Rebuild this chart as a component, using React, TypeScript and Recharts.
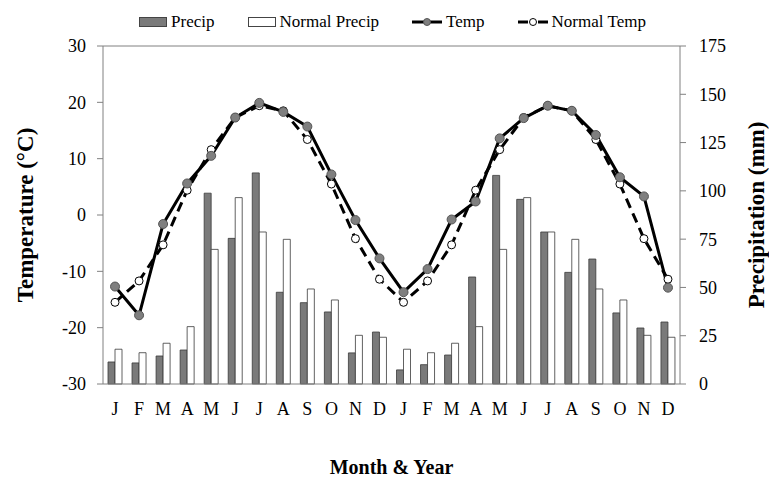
import React from "react";
import {
  Bar,
  ComposedChart,
  Legend,
  Line,
  ReferenceLine,
  XAxis,
  YAxis,
} from "recharts";

const months = ["J", "F", "M", "A", "M", "J", "J", "A", "S", "O", "N", "D",
  "J", "F", "M", "A", "M", "J", "J", "A", "S", "O", "N", "D"];

const precip = [11.4, 10.9, 14.5, 17.6, 98.8, 75.4, 109.3, 47.5, 42.1, 37.3, 16.1, 26.9,
  7.3, 10, 15, 55.4, 108, 95.6, 78.7, 57.8, 64.7, 36.8, 29, 32.1];
const normalPrecipYear = [18, 16.2, 21.1, 29.7, 69.7, 96.5, 78.7, 74.9, 49.2, 43.5, 25.2, 24.2];
const normalPrecip = [...normalPrecipYear, ...normalPrecipYear];

const temp = [-12.7, -17.8, -1.6, 5.6, 10.5, 17.3, 19.9, 18.3, 15.7, 7.2, -0.9, -7.7,
  -13.7, -9.6, -0.8, 2.4, 13.6, 17.2, 19.4, 18.5, 14.2, 6.7, 3.3, -12.9];
const normalTempYear = [-15.5, -11.7, -5.3, 4.4, 11.6, 17.3, 19.4, 18.5, 13.4, 5.5, -4.2, -11.4];
const normalTemp = [...normalTempYear, ...normalTempYear];

const tempTicks = [-30, -20, -10, 0, 10, 20, 30];
const precipTicks = [0, 25, 50, 75, 100, 125, 150, 175];

const data = months.map((m, i) => ({
  month: m,
  precip: precip[i],
  normalPrecip: normalPrecip[i],
  temp: temp[i],
  normalTemp: normalTemp[i],
}));

const FONT = "'Liberation Serif', 'Times New Roman', serif";
const AXIS = "#808080";

function YTitle({ viewBox, value, dx }: any) {
  const x = viewBox.x + dx;
  const y = viewBox.y + viewBox.height / 2;
  return (
    <text
      x={x}
      y={y}
      transform={`rotate(-90, ${x}, ${y})`}
      textAnchor="middle"
      dominantBaseline="central"
      fontFamily={FONT}
      fontWeight="bold"
      fontSize={23}
      fill="#000"
    >
      {value}
    </text>
  );
}

function XTitle({ viewBox, value }: any) {
  return (
    <text
      x={viewBox.x + viewBox.width / 2}
      y={viewBox.y + 83}
      textAnchor="middle"
      dominantBaseline="central"
      fontFamily={FONT}
      fontWeight="bold"
      fontSize={20}
      fill="#000"
    >
      {value}
    </text>
  );
}

function LegendContent() {
  const item = { display: "flex", alignItems: "center", gap: 4 } as const;
  return (
    <div
      style={{
        display: "flex",
        justifyContent: "center",
        gap: 33,
        fontFamily: FONT,
        fontSize: 17,
        color: "#000",
        lineHeight: "20px",
      }}
    >
      <div style={item}>
        <span style={{ width: 26, height: 8, background: "#7a7a7a", border: "1px solid #444" }} />
        Precip
      </div>
      <div style={item}>
        <span style={{ width: 26, height: 8, background: "#fff", border: "1px solid #444" }} />
        Normal Precip
      </div>
      <div style={item}>
        <svg width={30} height={12}>
          <line x1={0} y1={6} x2={30} y2={6} stroke="#000" strokeWidth={3} />
          <circle cx={15} cy={6} r={3.5} fill="#7f7f7f" stroke="#555" />
        </svg>
        Temp
      </div>
      <div style={item}>
        <svg width={30} height={12}>
          <line x1={0} y1={6} x2={10} y2={6} stroke="#000" strokeWidth={3} />
          <line x1={20} y1={6} x2={30} y2={6} stroke="#000" strokeWidth={3} />
          <circle cx={15} cy={6} r={3.5} fill="#fff" stroke="#000" />
        </svg>
        Normal Temp
      </div>
    </div>
  );
}

export default function App() {
  return (
    <div style={{ position: "absolute", left: 0, top: 0, background: "#fff" }}>
      <ComposedChart
        width={769}
        height={477}
        data={data}
        margin={{ top: 46, right: 0, left: 0, bottom: 0 }}
        barGap={0}
        barCategoryGap={0}
      >
        <XAxis
          dataKey="month"
          interval={0}
          height={93}
          stroke={AXIS}
          tickLine={false}
          tickMargin={12}
          tick={{ fill: "#000", fontFamily: FONT, fontSize: 18 }}
          label={<XTitle value="Month & Year" />}
        />
        <YAxis
          yAxisId="temp"
          domain={[-30, 30]}
          ticks={tempTicks}
          width={103}
          stroke={AXIS}
          tickSize={6}
          tickMargin={11}
          tick={{ fill: "#000", fontFamily: FONT, fontSize: 18 }}
          label={<YTitle value="Temperature (°C)" dx={25} />}
        />
        <YAxis
          yAxisId="precip"
          orientation="right"
          domain={[0, 175]}
          ticks={precipTicks}
          width={89}
          stroke={AXIS}
          tickSize={6}
          tickMargin={13}
          tick={{ fill: "#000", fontFamily: FONT, fontSize: 18 }}
          label={<YTitle value="Precipitation (mm)" dx={76} />}
        />
        <ReferenceLine yAxisId="temp" y={30} stroke={AXIS} />
        <Legend
          layout="horizontal"
          verticalAlign="middle"
          align="center"
          content={<LegendContent />}
          wrapperStyle={{ position: "absolute", top: 12, left: 8, width: 769, height: 20 }}
        />
        <Bar
          yAxisId="precip"
          dataKey="precip"
          barSize={7}
          fill="#7a7a7a"
          stroke="#3a3a3a"
          strokeWidth={0.8}
          isAnimationActive={false}
        />
        <Bar
          yAxisId="precip"
          dataKey="normalPrecip"
          barSize={7}
          fill="#fff"
          stroke="#3a3a3a"
          strokeWidth={0.8}
          isAnimationActive={false}
        />
        <Line
          yAxisId="temp"
          dataKey="normalTemp"
          stroke="#000"
          strokeWidth={3}
          strokeDasharray="10 6"
          dot={{ r: 4, fill: "#fff", stroke: "#000", strokeWidth: 1, strokeDasharray: "" }}
          isAnimationActive={false}
        />
        <Line
          yAxisId="temp"
          dataKey="temp"
          stroke="#000"
          strokeWidth={3}
          dot={{ r: 4.5, fill: "#7f7f7f", stroke: "#555", strokeWidth: 1 }}
          isAnimationActive={false}
        />
      </ComposedChart>
    </div>
  );
}
